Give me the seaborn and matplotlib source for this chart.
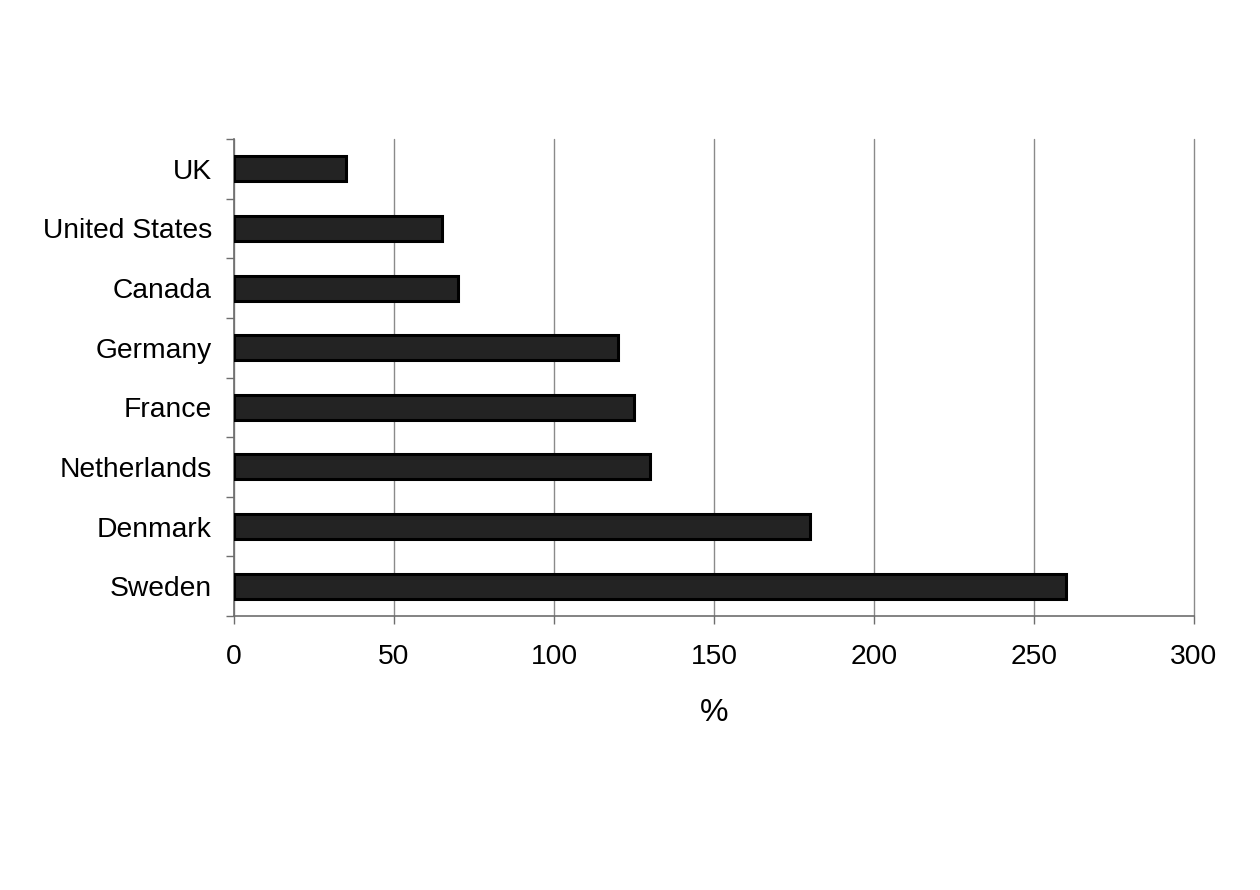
import matplotlib
matplotlib.use("Agg")
import matplotlib.pyplot as plt
import seaborn as sns
import pandas as pd
import numpy as np

countries = ["UK", "United States", "Canada", "Germany", "France", "Netherlands", "Denmark", "Sweden"]
values = [35, 65, 70, 120, 125, 130, 180, 260]
x_ticks = [0, 50, 100, 150, 200, 250, 300]
x_label = "%"

sns.set_style("white")
plt.rcParams['font.family'] = ['Liberation Sans', 'DejaVu Sans']
plt.rcParams['text.color'] = 'black'
plt.rcParams['xtick.labelcolor'] = 'black'
plt.rcParams['ytick.labelcolor'] = 'black'
plt.rcParams['axes.labelcolor'] = 'black'

df = pd.DataFrame({"country": countries, "value": values})

fig = plt.figure(figsize=(12.6, 8.9), dpi=100)
ax = fig.add_axes([234/1260, 1-616/890, (1194-234)/1260, (616-139)/890])

sns.barplot(data=df, x="value", y="country", orient="h", color="#232323",
            edgecolor="black", linewidth=2.2, width=0.42, saturation=1, ax=ax, zorder=3)

ax.set_xlim(0, 300)
ax.set_ylim(len(countries)-0.5, -0.5)
ax.set_xticks(x_ticks)
ax.set_xticklabels([str(t) for t in x_ticks])
ax.xaxis.grid(True, color="#8a8a8a", linewidth=1.0, zorder=0)
for gl in ax.get_xgridlines():
    gl.set_clip_on(False)
ax.yaxis.grid(False)
ax.set_axisbelow(True)

for s in ["top", "right"]:
    ax.spines[s].set_visible(False)
for s in ["left", "bottom"]:
    ax.spines[s].set_color("#6e6e6e")
    ax.spines[s].set_linewidth(1.2)

ax.set_yticks(np.arange(len(countries)))
ax.set_yticklabels(countries)
ax.set_yticks(np.arange(len(countries)+1) - 0.5, minor=True)
ax.tick_params(axis="y", which="major", length=0, pad=16, labelsize=20.3, labelcolor="black")
ax.tick_params(axis="y", which="minor", length=6, width=1, color="#6e6e6e", direction="out", left=True)
ax.tick_params(axis="x", which="major", length=6, width=1, color="#6e6e6e", direction="out", bottom=True, pad=14, labelsize=20.3, labelcolor="black")

ax.set_xlabel(x_label, fontsize=23, labelpad=20, color="black")
ax.set_ylabel("")

fig.savefig("out.png", dpi=100, facecolor="white")
